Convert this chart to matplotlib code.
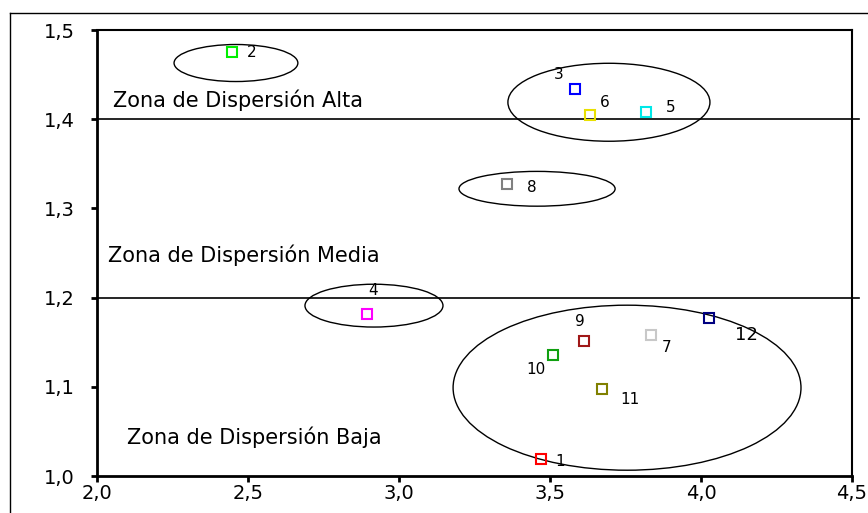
import numpy as np
import matplotlib
matplotlib.use('Agg')
import matplotlib.pyplot as plt
from matplotlib.patches import Ellipse
from matplotlib.lines import Line2D
from matplotlib.ticker import FuncFormatter

# case numbers, coordinates and marker colours
ids = ['1', '2', '3', '4', '5', '6', '7', '8', '9', '10', '11', '12']
xs = [3.47, 2.447, 3.583, 2.894, 3.818, 3.632, 3.834, 3.358, 3.613, 3.51, 3.672, 4.026]
ys = [1.019, 1.475, 1.434, 1.182, 1.408, 1.405, 1.158, 1.327, 1.151, 1.136, 1.098, 1.177]
colors = ['#ff0000', '#00ee00', '#0000ff', '#ff00ff', '#00e8e8', '#e8e000',
          '#c8c8c8', '#808080', '#a01818', '#10a010', '#808000', '#000080']

# label offsets in points and font sizes
offsets = [(14, -2), (14, 0), (-12, 10), (4, 17), (18, 3), (11, 9),
           (11, -9), (18, -2), (-3, 14), (-12, -11), (20, -8), (27, -12)]
label_sizes = [11, 11, 11, 11, 11, 11, 11, 11, 11, 11, 11, 13]

# cluster ellipses: centre x, centre y, width, height
clusters = [(2.46, 1.463, 0.41, 0.0415),
            (3.695, 1.419, 0.669, 0.0874),
            (3.457, 1.322, 0.517, 0.039),
            (2.917, 1.191, 0.457, 0.048),
            (3.755, 1.099, 1.152, 0.185)]

zone_limits = [1.4, 1.2]
zone_labels = [(2.053, 1.4215, 'Zona de Dispersión Alta'),
               (2.036, 1.248, 'Zona de Dispersión Media'),
               (2.10, 1.043, 'Zona de Dispersión Baja')]

plt.rcParams['font.family'] = ['DejaVu Sans']

fig = plt.figure(figsize=(8.68, 5.13), dpi=100)
ax = fig.add_axes([0.1118, 0.0721, 0.8698, 0.8694])

# outer frame (cut off at the right and bottom)
fig.add_artist(Line2D([10 / 868, 1.0], [500 / 513, 500 / 513], color='black', lw=1))
fig.add_artist(Line2D([10 / 868, 10 / 868], [0.0, 500 / 513], color='black', lw=1))

for cx, cy, w, h in clusters:
    ax.add_patch(Ellipse((cx, cy), w, h, fill=False, edgecolor='black', lw=1))

for yl in zone_limits:
    ax.plot([2.0, 4.523], [yl, yl], color='black', lw=1.2, clip_on=False)

for x, y, c, name, off, fs in zip(xs, ys, colors, ids, offsets, label_sizes):
    ax.plot(x, y, 's', markersize=7, markerfacecolor='none', markeredgecolor=c, markeredgewidth=1.5)
    ax.annotate(name, (x, y), xytext=off, textcoords='offset points',
                ha='center', va='center', fontsize=fs)

for x, y, t in zone_labels:
    ax.text(x, y, t, ha='left', va='center', fontsize=15)

ax.set_xlim(2.0, 4.5)
ax.set_ylim(1.0, 1.5)
ax.set_xticks([2.0, 2.5, 3.0, 3.5, 4.0, 4.5])
ax.set_yticks([1.0, 1.1, 1.2, 1.3, 1.4, 1.5])
comma = FuncFormatter(lambda v, p: f'{v:.1f}'.replace('.', ','))
ax.xaxis.set_major_formatter(comma)
ax.yaxis.set_major_formatter(comma)
ax.tick_params(direction='out', length=4, width=2, labelsize=14)
ax.tick_params(axis='y', pad=12)
ax.tick_params(axis='x', pad=2)
for s in ['left', 'bottom']:
    ax.spines[s].set_linewidth(2)
for s in ['top', 'right']:
    ax.spines[s].set_linewidth(1.5)

fig.savefig('out.png', dpi=100)
